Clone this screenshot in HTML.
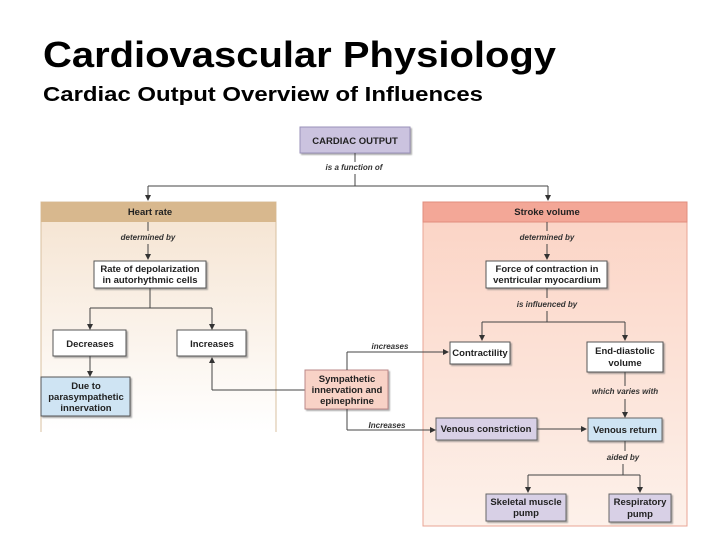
<!DOCTYPE html>
<html><head><meta charset="utf-8"><style>
html,body{margin:0;padding:0;background:#fff;}
svg{display:block;font-family:"Liberation Sans",Arial,sans-serif;}
.b{font-weight:bold;font-size:9.5px;fill:#222;text-anchor:middle;}
.i{font-style:italic;font-weight:bold;font-size:8px;fill:#333;text-anchor:middle;}
.l{stroke:#444;stroke-width:1;fill:none;}
</style></head><body>
<svg width="720" height="540" viewBox="0 0 720 540">
<defs>
<marker id="a" markerWidth="6" markerHeight="6" refX="5" refY="3" orient="auto" markerUnits="userSpaceOnUse"><path d="M0,0 L6,3 L0,6 z" fill="#333"/></marker>
<linearGradient id="hr" x1="0" y1="0" x2="0" y2="1"><stop offset="0" stop-color="#f5e3d0"/><stop offset="1" stop-color="#ffffff"/></linearGradient>
<linearGradient id="sv" x1="0" y1="0" x2="0" y2="1"><stop offset="0" stop-color="#fbd3c4"/><stop offset="1" stop-color="#fdf1ea"/></linearGradient>
<filter id="s" x="-10%" y="-10%" width="130%" height="140%"><feDropShadow dx="1.5" dy="1.5" stdDeviation="0.8" flood-color="#777" flood-opacity="0.6"/></filter>
</defs>
<text x="43" y="67" font-size="36" font-weight="bold" fill="#000" textLength="513" lengthAdjust="spacingAndGlyphs">Cardiovascular Physiology</text>
<text x="43" y="101" font-size="20" font-weight="bold" fill="#000" textLength="440" lengthAdjust="spacingAndGlyphs">Cardiac Output Overview of Influences</text>

<!-- panels -->
<rect x="41" y="202" width="235" height="230" fill="url(#hr)"/>
<path d="M41,432 V202 H276 V432" stroke="#d8c0a0" fill="none"/>
<rect x="41" y="202" width="235" height="20" fill="#d8b88e"/>
<text class="b" x="150" y="215">Heart rate</text>
<rect x="423" y="202" width="264" height="324" fill="url(#sv)" stroke="#e9a595"/>
<rect x="423" y="202" width="264" height="20" fill="#f3a797" stroke="#e08d7d"/>
<text class="b" x="547" y="215">Stroke volume</text>

<!-- top -->
<rect x="300" y="127" width="110" height="26" fill="#cbc3df" stroke="#9a90b8" filter="url(#s)"/>
<text class="b" x="355" y="144">CARDIAC OUTPUT</text>
<line class="l" x1="355" y1="153" x2="355" y2="162"/>
<text class="i" x="354" y="170">is a function of</text>
<path class="l" d="M355,174 V186 M148,186 H548"/>
<line class="l" x1="148" y1="186" x2="148" y2="200" marker-end="url(#a)"/>
<line class="l" x1="548" y1="186" x2="548" y2="200" marker-end="url(#a)"/>

<!-- heart rate -->
<line class="l" x1="148" y1="222" x2="148" y2="231"/>
<text class="i" x="148" y="240">determined by</text>
<line class="l" x1="148" y1="244" x2="148" y2="259" marker-end="url(#a)"/>
<rect x="94" y="261" width="112" height="27" fill="#fff" stroke="#555" filter="url(#s)"/>
<text class="b" x="150" y="272">Rate of depolarization</text>
<text class="b" x="150" y="283">in autorhythmic cells</text>
<path class="l" d="M150,288 V308 M90,308 H212"/>
<line class="l" x1="90" y1="308" x2="90" y2="329" marker-end="url(#a)"/>
<line class="l" x1="212" y1="308" x2="212" y2="329" marker-end="url(#a)"/>
<rect x="53" y="330" width="73" height="26" fill="#fff" stroke="#555" filter="url(#s)"/>
<text class="b" x="90" y="347">Decreases</text>
<rect x="177" y="330" width="69" height="26" fill="#fff" stroke="#555" filter="url(#s)"/>
<text class="b" x="212" y="347">Increases</text>
<line class="l" x1="90" y1="356" x2="90" y2="376" marker-end="url(#a)"/>
<rect x="41" y="377" width="89" height="39" fill="#cfe4f3" stroke="#555" filter="url(#s)"/>
<text class="b" x="86" y="389">Due to</text>
<text class="b" x="86" y="400">parasympathetic</text>
<text class="b" x="86" y="411">innervation</text>
<path class="l" d="M305,390 H212"/>
<line class="l" x1="212" y1="390" x2="212" y2="358" marker-end="url(#a)"/>

<!-- sympathetic -->
<rect x="305" y="370" width="83" height="39" fill="#f8d2c6" stroke="#b88" filter="url(#s)"/>
<text class="b" x="347" y="382">Sympathetic</text>
<text class="b" x="347" y="393">innervation and</text>
<text class="b" x="347" y="404">epinephrine</text>
<path class="l" d="M347,370 V352"/>
<line class="l" x1="347" y1="352" x2="448" y2="352" marker-end="url(#a)"/>
<text class="i" x="390" y="349">increases</text>
<path class="l" d="M347,409 V430"/>
<line class="l" x1="347" y1="430" x2="435" y2="430" marker-end="url(#a)"/>
<text class="i" x="387" y="428">Increases</text>

<!-- stroke volume -->
<line class="l" x1="547" y1="222" x2="547" y2="231"/>
<text class="i" x="547" y="240">determined by</text>
<line class="l" x1="547" y1="244" x2="547" y2="259" marker-end="url(#a)"/>
<rect x="486" y="261" width="121" height="27" fill="#fff" stroke="#555" filter="url(#s)"/>
<text class="b" x="547" y="272">Force of contraction in</text>
<text class="b" x="547" y="283">ventricular myocardium</text>
<line class="l" x1="547" y1="288" x2="547" y2="298"/>
<text class="i" x="547" y="307">is influenced by</text>
<path class="l" d="M547,311 V322 M482,322 H625"/>
<line class="l" x1="482" y1="322" x2="482" y2="340" marker-end="url(#a)"/>
<line class="l" x1="625" y1="322" x2="625" y2="340" marker-end="url(#a)"/>
<rect x="450" y="342" width="60" height="22" fill="#fff" stroke="#555" filter="url(#s)"/>
<text class="b" x="480" y="356">Contractility</text>
<rect x="587" y="342" width="76" height="30" fill="#fff" stroke="#555" filter="url(#s)"/>
<text class="b" x="625" y="354">End-diastolic</text>
<text class="b" x="625" y="366">volume</text>
<line class="l" x1="625" y1="372" x2="625" y2="386"/>
<text class="i" x="625" y="394">which varies with</text>
<line class="l" x1="625" y1="399" x2="625" y2="417" marker-end="url(#a)"/>
<rect x="436" y="418" width="101" height="22" fill="#d8d0e6" stroke="#666" filter="url(#s)"/>
<text class="b" x="486" y="432">Venous constriction</text>
<line class="l" x1="537" y1="429" x2="586" y2="429" marker-end="url(#a)"/>
<rect x="588" y="418" width="74" height="23" fill="#cfe4f3" stroke="#666" filter="url(#s)"/>
<text class="b" x="625" y="433">Venous return</text>
<line class="l" x1="625" y1="441" x2="625" y2="451" stroke="#999"/>
<text class="i" x="623" y="460">aided by</text>
<path class="l" d="M623,464 V475 M528,475 H640"/>
<line class="l" x1="528" y1="475" x2="528" y2="492" marker-end="url(#a)"/>
<line class="l" x1="640" y1="475" x2="640" y2="492" marker-end="url(#a)"/>
<rect x="486" y="494" width="80" height="27" fill="#d8d0e6" stroke="#666" filter="url(#s)"/>
<text class="b" x="526" y="505">Skeletal muscle</text>
<text class="b" x="526" y="516">pump</text>
<rect x="609" y="494" width="62" height="28" fill="#d8d0e6" stroke="#666" filter="url(#s)"/>
<text class="b" x="640" y="505">Respiratory</text>
<text class="b" x="640" y="517">pump</text>
</svg>
</body></html>
